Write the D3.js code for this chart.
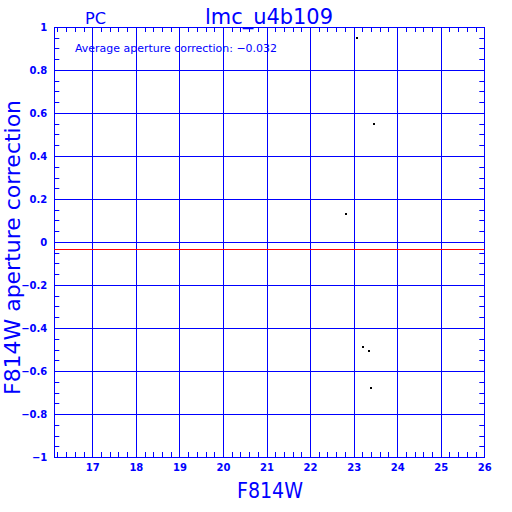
<!DOCTYPE html>
<html><head><meta charset="utf-8">
<script src="https://cdn.jsdelivr.net/npm/d3@7"></script>
<style>body{margin:0;background:#fff}svg{display:block}</style>
</head><body>
<script>
const xVals = [23.07, 23.46, 22.82, 23.21, 23.35, 23.41];
const yVals = [0.95, 0.547, 0.13, -0.487, -0.507, -0.679];
const xTicks = [17, 18, 19, 20, 21, 22, 23, 24, 25, 26];
const yTicks = [-1, -0.8, -0.6, -0.4, -0.2, 0, 0.2, 0.4, 0.6, 0.8, 1];
const yTickLabels = ["\u22121", "\u22120.8", "\u22120.6", "\u22120.4", "\u22120.2", "0", "0.2", "0.4", "0.6", "0.8", "1"];
const avgCorrection = -0.032;
const titleText = "lmc_u4b109";
const cornerText = "PC";
const xLabel = "F814W";
const yLabel = "F814W aperture correction";

const W = 512, H = 512;
const L = 54.3, R = 484.3, T = 27, B = 457;
const blue = "#0000ff";
const svg = d3.select("body").append("svg").attr("width", W).attr("height", H);
const x = d3.scaleLinear().domain([16.128, 26]).range([L, R]);
const y = d3.scaleLinear().domain([-1, 1]).range([B, T]);
const px = v => Math.round(v) + 0.5;

// grid lines
const g = svg.append("g").attr("stroke", blue).attr("stroke-width", 1);
xTicks.filter(v => v < 26).forEach(v => g.append("line").attr("x1", px(x(v))).attr("x2", px(x(v))).attr("y1", T).attr("y2", B));
yTicks.filter(v => v > -1 && v < 1).forEach(v => g.append("line").attr("x1", L).attr("x2", R).attr("y1", px(y(v))).attr("y2", px(y(v))));

// minor ticks
const xMinor = d3.range(16.2, 26.0001, 0.2).filter(v => Math.abs(v - Math.round(v)) > 1e-6);
xMinor.forEach(v => {
  g.append("line").attr("x1", px(x(v))).attr("x2", px(x(v))).attr("y1", B).attr("y2", B - 5);
  g.append("line").attr("x1", px(x(v))).attr("x2", px(x(v))).attr("y1", T).attr("y2", T + 5);
});
const yMinor = d3.range(-0.95, 1, 0.05).filter(v => Math.abs(v * 5 - Math.round(v * 5)) > 1e-6);
yMinor.forEach(v => {
  g.append("line").attr("x1", L).attr("x2", L + 5).attr("y1", px(y(v))).attr("y2", px(y(v)));
  g.append("line").attr("x1", R).attr("x2", R - 5).attr("y1", px(y(v))).attr("y2", px(y(v)));
});

// frame
svg.append("rect").attr("x", px(L)).attr("y", px(T)).attr("width", Math.round(R) - Math.round(L)).attr("height", Math.round(B) - Math.round(T))
  .attr("fill", "none").attr("stroke", blue).attr("stroke-width", 1);

// average line
svg.append("line").attr("x1", L).attr("x2", R).attr("y1", px(y(avgCorrection))).attr("y2", px(y(avgCorrection)))
  .attr("stroke", "#ff0000").attr("stroke-width", 1);

// axes labels
const xAxis = d3.axisBottom(x).tickValues(xTicks).tickSize(0).tickPadding(0);
const xg = svg.append("g").attr("transform", `translate(0,${B})`).call(xAxis);
xg.select(".domain").remove();
xg.selectAll("text").attr("y", 14).attr("dy", 0).attr("fill", blue)
  .attr("font-family", "DejaVu Sans").attr("font-size", 10).attr("font-weight", "bold");

const yAxis = d3.axisLeft(y).tickValues(yTicks).tickFormat((d, i) => yTickLabels[i]).tickSize(0).tickPadding(0);
const yg = svg.append("g").attr("transform", `translate(${L - 7},0)`).call(yAxis);
yg.select(".domain").remove();
yg.selectAll("text").attr("x", 0).attr("dy", "0.35em").attr("fill", blue)
  .attr("font-family", "DejaVu Sans").attr("font-size", 10).attr("font-weight", "bold");

// points
svg.append("g").selectAll("rect").data(xVals).join("rect")
  .attr("x", (d) => Math.round(x(d)) - 1).attr("y", (d, i) => Math.round(y(yVals[i])) - 1)
  .attr("width", 2).attr("height", 2).attr("fill", "#000");

// texts
const txt = (t, px0, py, size, len) => svg.append("text").text(t).attr("x", px0).attr("y", py)
  .attr("fill", blue).attr("font-family", "DejaVu Sans").attr("font-size", size)
  .attr("textLength", len).attr("lengthAdjust", "spacingAndGlyphs");
txt(titleText, 205, 24, 22, 128);
txt(cornerText, 85, 24, 16, 21);
txt(xLabel, 237, 498, 22, 66);
txt("Average aperture correction: " + "\u2212" + Math.abs(avgCorrection).toFixed(3), 75, 52, 11, 202);
svg.append("text").text(yLabel).attr("transform", "translate(20,395) rotate(-90)")
  .attr("fill", blue).attr("font-family", "DejaVu Sans").attr("font-size", 21)
  .attr("textLength", 295).attr("lengthAdjust", "spacingAndGlyphs");
</script>
</body></html>
